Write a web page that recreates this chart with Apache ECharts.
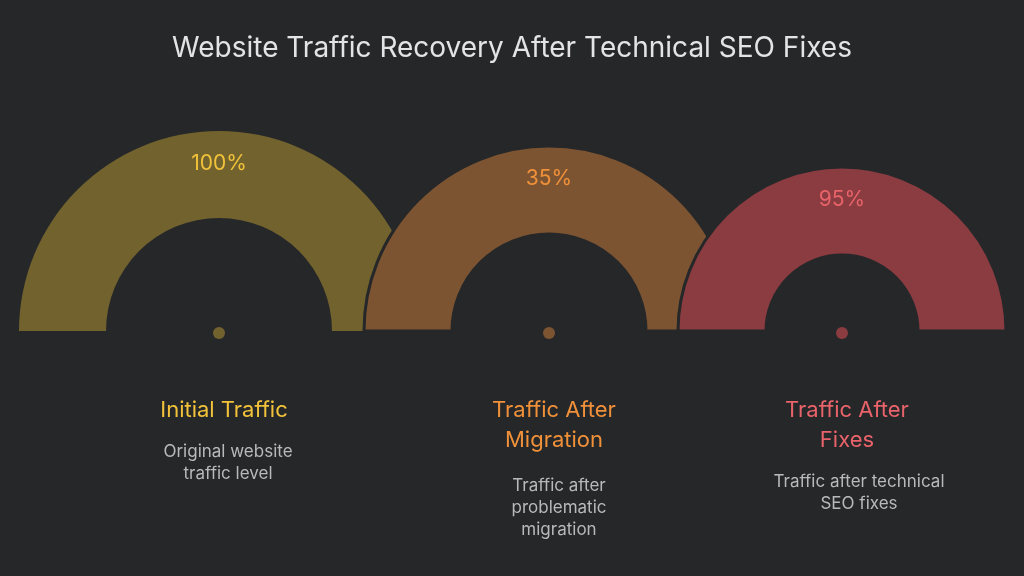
<!DOCTYPE html>
<html><head><meta charset="utf-8">
<script src="https://cdn.jsdelivr.net/npm/echarts@6/dist/echarts.min.js"></script>
<style>html,body{margin:0;background:#262729;}#c{width:1024px;height:576px;}</style>
</head><body><div id="c"></div>
<script>
const stages = ["Initial Traffic", "Traffic After\nMigration", "Traffic After\nFixes"];
const descriptions = ["Original website\ntraffic level", "Traffic after\nproblematic\nmigration", "Traffic after technical\nSEO fixes"];
const percentValues = [100, 35, 95];
const fillColors = ["#72632e", "#7d5432", "#8a3c40"];
const textColors = ["#f2c23a", "#f0913a", "#e8636a"];
const centersX = [219, 549, 842];
const radii = [[113, 200], [97, 185], [76, 164]];
const FONT = "Inter, 'Noto Sans', sans-serif";
const cy = 331;

const series = [];
const titles = [{
  text: "Website Traffic Recovery After Technical SEO Fixes",
  left: "center", top: 30,
  textStyle: {color: "#e4e4e4", fontSize: 28, fontWeight: "normal", fontFamily: FONT}
}];
percentValues.forEach((v, i) => {
  series.push({
    type: "pie", silent: true, z: 2 + i, zlevel: 0,
    center: [centersX[i], cy], radius: radii[i],
    startAngle: 180, clockwise: true, animation: false,
    itemStyle: {borderColor: i > 0 ? "#262729" : "transparent", borderWidth: i > 0 ? 3 : 0},
    label: {show: false}, labelLine: {show: false},
    data: [
      {value: 1, name: v + "%", itemStyle: {color: fillColors[i]},
       label: {show: true, position: "inside", formatter: v + "%", color: textColors[i],
               fontSize: 21, fontFamily: FONT, offset: [0, -8]}},
      {value: 1, name: "", itemStyle: {color: "transparent", borderWidth: 0}}
    ]
  });
  series.push({
    type: "pie", silent: true, z: 10, animation: false,
    center: [centersX[i], cy + 2], radius: [0, 6],
    label: {show: false}, data: [{value: 1, itemStyle: {color: fillColors[i]}}]
  });
  titles.push({
    text: stages[i], left: centersX[i], top: 390, textAlign: "center",
    textStyle: {color: textColors[i], fontSize: 22, fontWeight: "normal", fontFamily: FONT, lineHeight: 30}
  });
  const descTop = [436, 470, 466][i];
  titles.push({
    text: descriptions[i], left: centersX[i] + [4, 5, 12][i], top: descTop, textAlign: "center",
    textStyle: {color: "#b9b9b9", fontSize: 17, fontWeight: "normal", fontFamily: FONT, lineHeight: 22}
  });
});
const chart = echarts.init(document.getElementById("c"));
chart.setOption({backgroundColor: "#262729", title: titles, series: series});
</script></body></html>
